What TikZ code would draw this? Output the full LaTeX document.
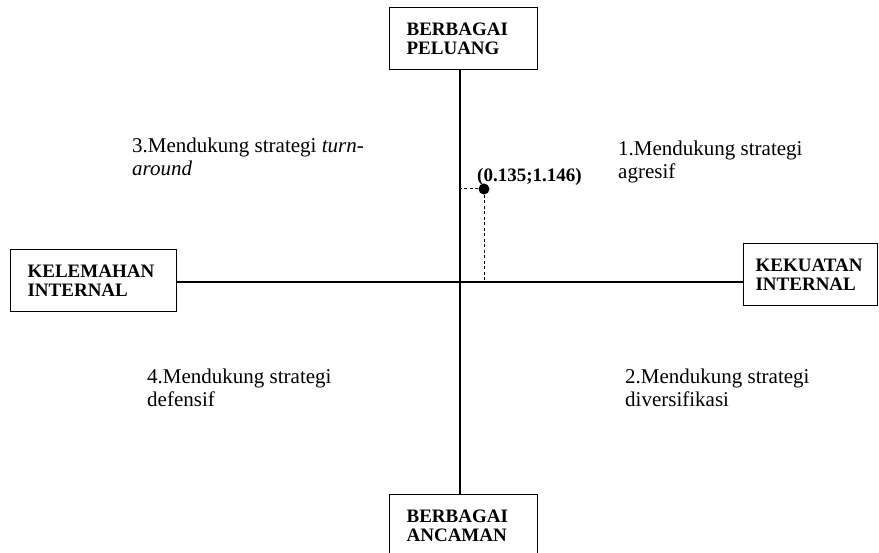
\documentclass[tikz,border=0pt]{standalone}
\usepackage{fontspec}
\setmainfont{Liberation Serif}

\tikzstyle{kotak} = [rectangle, anchor=north west, draw=black, line width=1.2pt, fill=white, minimum height=62pt, inner xsep=17pt, inner ysep=0pt, align=left, font=\bfseries\fontsize{19}{19.5}\selectfont]
\tikzstyle{teks} = [anchor=north west, inner sep=0pt, align=left, font=\fontsize{21}{22.5}\selectfont]
\tikzstyle{sumbu} = [line width=2pt]
\tikzstyle{putus} = [line width=1pt, dash pattern=on 3pt off 2.5pt]

\begin{document}
\begin{tikzpicture}[x=1pt, y=-1pt]
	\useasboundingbox (0,0) rectangle (879,553);
	% Place nodes
	\coordinate (O) at (460,282);
	\node [kotak, text width=114pt] (Peluang) at (389,7) {BERBAGAI\\PELUANG};
	\node [kotak, text width=114pt] (Ancaman) at (389,494) {BERBAGAI\\ANCAMAN};
	\node [kotak, text width=132pt] (Kelemahan) at (10,249) {KELEMAHAN\\INTERNAL};
	\node [kotak, text width=110pt, inner xsep=12pt, xshift=5pt] (Kekuatan) at (738,243) {KEKUATAN\\INTERNAL};
	\node [teks] (Kuadran3) at (132,138) {3.Mendukung strategi \textit{turn-}\\\textit{around}};
	\node [teks] (Kuadran1) at (618,141) {1.Mendukung strategi\\agresif};
	\node [teks] (Kuadran4) at (147,369) {4.Mendukung strategi\\defensif};
	\node [teks] (Kuadran2) at (625,369) {2.Mendukung strategi\\diversifikasi};
	\node [circle, fill=black, inner sep=0pt, minimum size=11pt] (Titik) at (484,189) {};
	\node [anchor=base west, inner sep=0pt, font=\bfseries\fontsize{19}{19}\selectfont] (Posisi) at (477,182) {(0.135;1.146)};
	% Draw edges
	\draw [sumbu] (O |- Peluang.south) -- (O |- Ancaman.north);
	\draw [sumbu] (Kelemahan.east |- O) -- (Kekuatan.west |- O);
	\draw [putus] (Titik.west) -- (O |- Titik);
	\draw [putus] (Titik.south) -- (Titik |- O);
\end{tikzpicture}
\end{document}
